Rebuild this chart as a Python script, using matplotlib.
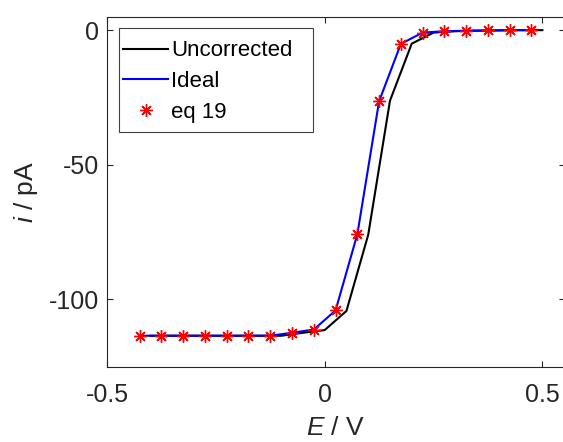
import matplotlib
matplotlib.use("Agg")
import matplotlib.pyplot as plt
from matplotlib.patches import Rectangle

# ideal / eq 19 points
e_ideal = [-0.425, -0.375, -0.325, -0.275, -0.225, -0.175, -0.125, -0.075, -0.025,
           0.025, 0.075, 0.125, 0.175, 0.225, 0.275, 0.325, 0.375, 0.425, 0.475]
i_ideal = [-113.5, -113.5, -113.5, -113.5, -113.5, -113.5, -113.5, -112.4, -111.2,
           -104.1, -75.8, -26.4, -5.1, -0.9, -0.4, -0.2, -0.1, 0.0, 0.0]

# uncorrected curve
e_unc = [-0.4, -0.35, -0.3, -0.25, -0.2, -0.15, -0.1, -0.05, 0.0,
         0.05, 0.1, 0.15, 0.2, 0.25, 0.3, 0.35, 0.4, 0.45, 0.5]
i_unc = [-113.5, -113.5, -113.5, -113.5, -113.5, -113.5, -113.5, -112.4, -111.4,
         -104.3, -76.0, -26.2, -5.0, -0.9, -0.4, -0.2, -0.1, 0.0, 0.0]

x_ticks = [-0.5, 0, 0.5]
x_ticklabels = ["-0.5", "0", "0.5"]
y_ticks = [-100, -50, 0]
y_ticklabels = ["-100", "-50", "0"]

plt.rcParams["font.family"] = ["Liberation Sans", "DejaVu Sans"]
plt.rcParams["mathtext.fontset"] = "custom"
plt.rcParams["mathtext.it"] = "Liberation Sans:italic"
plt.rcParams["mathtext.rm"] = "Liberation Sans"

axcol = "#262626"

fig = plt.figure(figsize=(5.63, 4.42), dpi=100)
ax = fig.add_axes([107 / 563, 1 - 366.7 / 442, (565 - 107) / 563, 350 / 442])

ax.plot(e_unc, i_unc, color="black", lw=1.5, label="Uncorrected")
ax.plot(e_ideal, i_ideal, color="#0000ff", lw=1.5, label="Ideal")
ax.plot(e_ideal, i_ideal, ls="none", marker=(8, 2, 0), ms=9, mew=1.0,
        color="#ff0000", label="eq 19")

ax.set_xlim(-0.5, 0.552)
ax.set_ylim(-125, 5)
ax.set_xticks(x_ticks)
ax.set_xticklabels(x_ticklabels)
ax.set_yticks(y_ticks)
ax.set_yticklabels(y_ticklabels)

for s in ax.spines.values():
    s.set_color(axcol)
    s.set_linewidth(0.8)
ax.tick_params(direction="in", length=4, width=0.8, color=axcol,
               labelcolor=axcol, labelsize=18, top=True, right=True)
ax.tick_params(axis="x", pad=11.5)
ax.tick_params(axis="y", pad=6)

ax.set_xlabel("$E$ / V", fontsize=19, color=axcol, labelpad=7)
ax.set_ylabel("$i$ / pA", fontsize=19, color=axcol, labelpad=6)

# legend box drawn separately (matlab style, wider padding)
ax.add_patch(Rectangle((0.0269, 0.6714), 0.4236, 0.2955, transform=ax.transAxes,
                       facecolor="white", edgecolor="#404040", lw=0.8, zorder=4.9))
leg = ax.legend(loc="upper left", bbox_to_anchor=(0.026, 0.945),
                fontsize=16, frameon=False,
                handlelength=2.0, handletextpad=0.15,
                borderaxespad=0, labelspacing=0.44, borderpad=0.2)
leg.set_zorder(5)

fig.savefig("out.png", dpi=100)
